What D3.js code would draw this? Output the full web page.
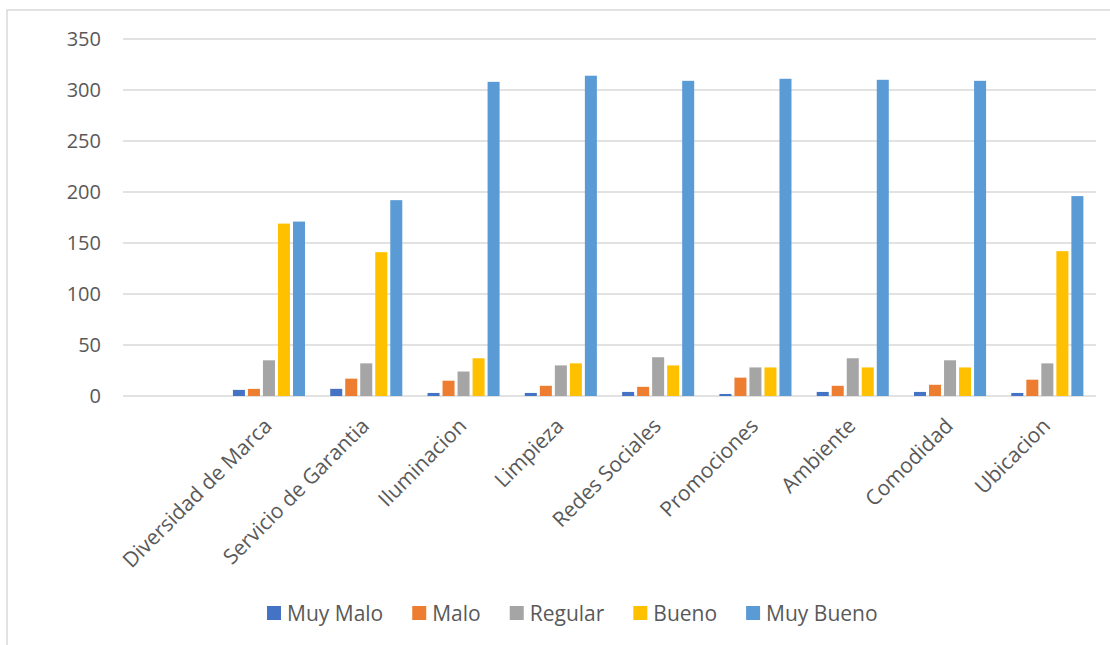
<!DOCTYPE html>
<html>
<head>
<meta charset="utf-8">
<script src="https://cdn.jsdelivr.net/npm/d3@7"></script>
<style>
  html, body { margin: 0; padding: 0; background: #ffffff; }
  svg { display: block; }
  text { font-family: "Open Sans", "Noto Sans", sans-serif; fill: #595959; }
</style>
</head>
<body>
<svg id="chart" width="1110" height="645"></svg>
<script>
// Categories (the first slot is left blank on the axis)
const categories = ["", "Diversidad de Marca", "Servicio de Garantia", "Iluminacion", "Limpieza",
  "Redes Sociales", "Promociones", "Ambiente", "Comodidad", "Ubicacion"];

const seriesNames = ["Muy Malo", "Malo", "Regular", "Bueno", "Muy Bueno"];
const seriesColors = ["#4472C4", "#ED7D31", "#A5A5A5", "#FFC000", "#5B9BD5"];

// Responses per rating, one array per series (null = no value in the blank slot)
const muyMalo  = [null, 6, 7, 3, 3, 4, 2, 4, 4, 3];
const malo     = [null, 7, 17, 15, 10, 9, 18, 10, 11, 16];
const regular  = [null, 35, 32, 24, 30, 38, 28, 37, 35, 32];
const bueno    = [null, 169, 141, 37, 32, 30, 28, 28, 28, 142];
const muyBueno = [null, 171, 192, 308, 314, 309, 311, 310, 309, 196];

const yTicks = [0, 50, 100, 150, 200, 250, 300, 350];

const series = [muyMalo, malo, regular, bueno, muyBueno];

const svg = d3.select("#chart");

// Chart frame
svg.append("rect")
  .attr("x", 7).attr("y", 10)
  .attr("width", 1200).attr("height", 800)
  .attr("fill", "none")
  .attr("stroke", "#d9d9d9")
  .attr("stroke-width", 1.5);

const plot = { left: 123, right: 1096, top: 39, bottom: 396 };

const x = d3.scaleBand()
  .domain(categories.map((c, i) => i))
  .range([plot.left, plot.right])
  .paddingInner(0).paddingOuter(0);

const xs = d3.scaleBand()
  .domain(d3.range(seriesNames.length))
  .range([0, x.bandwidth()])
  .paddingInner(0.2).paddingOuter(0.84);

const y = d3.scaleLinear()
  .domain([0, 350])
  .range([plot.bottom, plot.top]);

// Horizontal gridlines
svg.append("g")
  .selectAll("line")
  .data(yTicks)
  .join("line")
  .attr("x1", plot.left).attr("x2", plot.right)
  .attr("y1", d => y(d)).attr("y2", d => y(d))
  .attr("stroke", "#d9d9d9")
  .attr("stroke-width", 1.5);

// Value axis labels
const yAxis = d3.axisLeft(y).tickValues(yTicks).tickSize(0).tickPadding(0);
const yg = svg.append("g")
  .attr("transform", `translate(101,0)`)
  .call(yAxis);
yg.select(".domain").remove();
yg.selectAll("text")
  .attr("font-size", 20)
  .attr("font-family", "\"Open Sans\", sans-serif")
  .attr("fill", "#595959");

// Bars
const groups = svg.append("g")
  .selectAll("g")
  .data(series)
  .join("g")
  .attr("fill", (d, i) => seriesColors[i]);

groups.each(function (vals, si) {
  d3.select(this)
    .selectAll("rect")
    .data(vals.map((v, ci) => ({ v, ci })).filter(d => d.v !== null))
    .join("rect")
    .attr("x", d => x(d.ci) + xs(si))
    .attr("width", xs.bandwidth())
    .attr("y", d => y(d.v))
    .attr("height", d => y(0) - y(d.v));
});

// Category labels, rotated
svg.append("g")
  .selectAll("text")
  .data(categories.map((c, i) => ({ c, i })).filter(d => d.c !== ""))
  .join("text")
  .attr("transform", d => `translate(${x(d.i) + x.bandwidth() / 2 - 1},${422}) rotate(-45)`)
  .attr("text-anchor", "end")
  .attr("dy", "0.35em")
  .attr("font-size", 21)
  .text(d => d.c);

// Legend
const legend = svg.append("g").attr("transform", "translate(267,0)");
let lx = 0;
seriesNames.forEach((name, i) => {
  const g = legend.append("g").attr("transform", `translate(${lx},0)`);
  g.append("rect")
    .attr("x", 0).attr("y", 606)
    .attr("width", 14).attr("height", 14)
    .attr("fill", seriesColors[i]);
  const t = g.append("text")
    .attr("x", 20).attr("y", 621)
    .attr("font-size", 21)
    .text(name);
  lx += 20 + t.node().getComputedTextLength() + 29;
});
</script>
</body>
</html>
